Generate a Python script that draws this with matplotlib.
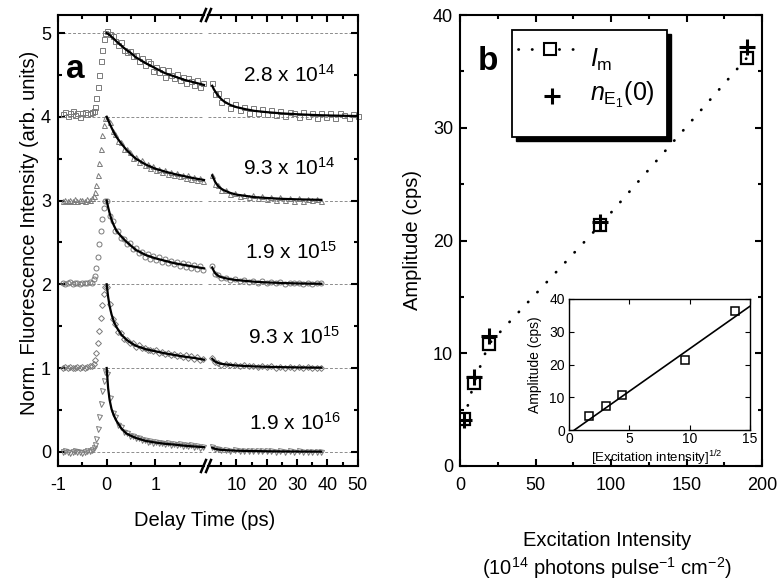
import matplotlib
matplotlib.use("Agg")
import matplotlib.pyplot as plt
from matplotlib.lines import Line2D
from matplotlib.patches import Rectangle

plt.rcParams['font.family'] = ['Liberation Sans', 'DejaVu Sans']
plt.rcParams['mathtext.fontset'] = 'custom'
plt.rcParams['mathtext.rm'] = 'Liberation Sans'
plt.rcParams['mathtext.it'] = 'Liberation Sans:italic'
plt.rcParams['mathtext.bf'] = 'Liberation Sans:bold'
plt.rcParams['mathtext.sf'] = 'Liberation Sans'
plt.rcParams['axes.unicode_minus'] = False

# ---------------- data: panel a ----------------
trace_labels = ["2.8 x 10$^{14}$", "9.3 x 10$^{14}$", "1.9 x 10$^{15}$",
                "9.3 x 10$^{15}$", "1.9 x 10$^{16}$"]
trace_offsets = [4, 3, 2, 1, 0]

t_left = [-0.90, -0.85, -0.80, -0.75, -0.70, -0.65, -0.60, -0.55, -0.50, -0.45, -0.40, -0.35, -0.30,
          -0.27, -0.24, -0.21, -0.18, -0.15, -0.12, -0.09, -0.06, -0.03,
          0.00, 0.06, 0.12, 0.18, 0.24, 0.30, 0.36, 0.42, 0.48, 0.54, 0.60, 0.66, 0.72, 0.78, 0.84,
          0.90, 0.96, 1.02, 1.08, 1.14, 1.20, 1.26, 1.32, 1.38, 1.44, 1.50, 1.56, 1.62, 1.68, 1.74,
          1.80, 1.86, 1.92, 1.98]

y_left_1 = [0.03, 0.06, 0.01, 0.04, 0.07, 0.02, 0.05, 0.00, 0.04, 0.06, 0.03, 0.05, 0.06,
            0.07, 0.12, 0.22, 0.35, 0.50, 0.66, 0.80, 0.93, 1.00,
            1.02, 0.99, 0.96, 0.91, 0.86, 0.89, 0.80, 0.77, 0.79, 0.72, 0.74, 0.66, 0.70, 0.62, 0.66,
            0.64, 0.55, 0.60, 0.53, 0.57, 0.48, 0.56, 0.50, 0.46, 0.51, 0.44, 0.47, 0.40, 0.46, 0.43,
            0.38, 0.44, 0.36, 0.40]
y_left_2 = [0.00, 0.01, -0.01, 0.01, 0.00, 0.02, 0.00, 0.01, 0.01, 0.00, 0.02, 0.01, 0.03,
            0.05, 0.10, 0.18, 0.30, 0.45, 0.62, 0.78, 0.90, 0.98,
            0.98, 0.94, 0.83, 0.80, 0.71, 0.70, 0.62, 0.61, 0.58, 0.51, 0.52, 0.46, 0.48, 0.42, 0.44,
            0.39, 0.41, 0.36, 0.38, 0.34, 0.36, 0.32, 0.34, 0.30, 0.33, 0.29, 0.31, 0.27, 0.30, 0.26,
            0.28, 0.24, 0.27, 0.23]
y_left_3 = [0.02, 0.00, 0.01, 0.03, 0.00, 0.01, 0.02, 0.00, 0.01, 0.02, 0.01, 0.03, 0.02,
            0.06, 0.10, 0.20, 0.32, 0.48, 0.63, 0.78, 0.91, 0.99,
            0.99, 0.82, 0.76, 0.64, 0.63, 0.55, 0.54, 0.48, 0.49, 0.42, 0.43, 0.37, 0.39, 0.33, 0.36,
            0.30, 0.34, 0.29, 0.32, 0.27, 0.30, 0.25, 0.28, 0.24, 0.27, 0.22, 0.25, 0.21, 0.24, 0.20,
            0.23, 0.18, 0.22, 0.17]
y_left_4 = [0.00, 0.01, 0.00, 0.01, 0.00, 0.00, 0.01, 0.00, 0.01, 0.00, 0.01, 0.02, 0.02,
            0.05, 0.10, 0.18, 0.30, 0.44, 0.60, 0.75, 0.88, 0.97,
            0.97, 0.76, 0.58, 0.53, 0.43, 0.42, 0.35, 0.34, 0.30, 0.30, 0.25, 0.27, 0.24, 0.24, 0.21,
            0.22, 0.20, 0.21, 0.18, 0.19, 0.17, 0.18, 0.15, 0.17, 0.14, 0.16, 0.13, 0.15, 0.12, 0.14,
            0.11, 0.13, 0.10, 0.11]
y_left_5 = [0.00, 0.01, 0.00, -0.01, 0.00, 0.01, 0.00, 0.00, -0.01, 0.00, 0.01, 0.01, 0.02,
            0.04, 0.08, 0.15, 0.27, 0.42, 0.57, 0.72, 0.85, 0.95,
            0.93, 0.64, 0.46, 0.41, 0.32, 0.29, 0.24, 0.22, 0.19, 0.19, 0.16, 0.16, 0.14, 0.14, 0.12,
            0.13, 0.11, 0.12, 0.10, 0.11, 0.09, 0.10, 0.085, 0.095, 0.08, 0.09, 0.07, 0.08, 0.065, 0.075,
            0.06, 0.07, 0.05, 0.06]

t_right = [2.0, 3.0, 4.0, 5.0, 6.5, 8.0, 9.5, 11, 12.5, 14, 15.5, 17, 18.5, 20, 21.5, 23, 24.5,
           26, 27.5, 29, 30.5, 32, 33.5, 35, 36.5, 38, 39.5, 41, 42.5, 44, 45.5, 47, 48.5, 50]

y_right_1 = [0.40, 0.27, 0.28, 0.18, 0.20, 0.11, 0.15, 0.08, 0.12, 0.05, 0.10, 0.04, 0.09, 0.03,
             0.08, 0.02, 0.07, 0.01, 0.06, 0.05, 0.00, 0.06, 0.01, 0.05, -0.01, 0.04, 0.00, 0.05,
             -0.01, 0.04, 0.02, -0.01, 0.03, 0.01]
y_right_2 = [0.31, 0.20, 0.18, 0.12, 0.13, 0.08, 0.09, 0.05, 0.07, 0.04, 0.06, 0.03, 0.05, 0.02,
             0.04, 0.01, 0.04, 0.01, 0.03, 0.00, 0.03, 0.00, 0.02, 0.01, 0.02, 0.00]
y_right_3 = [0.22, 0.12, 0.11, 0.07, 0.08, 0.05, 0.06, 0.04, 0.05, 0.03, 0.04, 0.02, 0.04, 0.01,
             0.03, 0.01, 0.03, 0.00, 0.02, 0.01, 0.02, 0.00, 0.02, 0.00, 0.01, 0.01]
y_right_4 = [0.12, 0.07, 0.065, 0.04, 0.05, 0.03, 0.04, 0.02, 0.03, 0.02, 0.025, 0.01, 0.02, 0.01,
             0.02, 0.005, 0.015, 0.00, 0.01, 0.005, 0.01, 0.00, 0.01, 0.00, 0.005, 0.00]
y_right_5 = [0.055, 0.035, 0.03, 0.02, 0.025, 0.015, 0.02, 0.01, 0.015, 0.01, 0.01, 0.005, 0.01,
             0.005, 0.008, 0.00, 0.006, 0.00, 0.005, 0.00, 0.004, 0.00, 0.003, 0.00, 0.002, 0.00]

# fitted curves
t_fit_left = [0.0, 0.03, 0.06, 0.1, 0.15, 0.2, 0.3, 0.4, 0.5, 0.6, 0.8, 1.0, 1.2, 1.4, 1.6, 1.8, 2.0]
fit_left_1 = [1.00, 0.99, 0.975, 0.955, 0.93, 0.90, 0.85, 0.80, 0.76, 0.71, 0.64, 0.58, 0.52, 0.48, 0.44, 0.41, 0.38]
fit_left_2 = [1.00, 0.96, 0.92, 0.87, 0.81, 0.76, 0.68, 0.61, 0.55, 0.50, 0.43, 0.38, 0.345, 0.315, 0.29, 0.265, 0.245]
fit_left_3 = [1.00, 0.92, 0.85, 0.77, 0.70, 0.64, 0.57, 0.51, 0.46, 0.41, 0.35, 0.31, 0.28, 0.25, 0.23, 0.21, 0.19]
fit_left_4 = [1.00, 0.85, 0.74, 0.64, 0.55, 0.49, 0.40, 0.34, 0.30, 0.265, 0.225, 0.20, 0.175, 0.155, 0.135, 0.12, 0.10]
fit_left_5 = [1.00, 0.76, 0.62, 0.51, 0.43, 0.37, 0.28, 0.22, 0.19, 0.165, 0.13, 0.11, 0.095, 0.085, 0.072, 0.063, 0.055]

t_fit_right = [2, 2.5, 3, 4, 5, 6, 8, 10, 13, 16, 20, 25, 30, 35, 38, 42, 46, 50]
fit_right_1 = [0.37, 0.33, 0.30, 0.25, 0.21, 0.18, 0.14, 0.115, 0.09, 0.07, 0.055, 0.04, 0.03, 0.022, 0.018, 0.014, 0.011, 0.009]
fit_right_2 = [0.30, 0.26, 0.22, 0.17, 0.14, 0.12, 0.09, 0.07, 0.055, 0.04, 0.03, 0.02, 0.014, 0.01, 0.008]
fit_right_3 = [0.20, 0.16, 0.13, 0.10, 0.085, 0.075, 0.06, 0.05, 0.04, 0.03, 0.022, 0.015, 0.01, 0.007, 0.006]
fit_right_4 = [0.11, 0.09, 0.075, 0.06, 0.05, 0.045, 0.037, 0.03, 0.024, 0.019, 0.014, 0.01, 0.007, 0.005, 0.004]
fit_right_5 = [0.05, 0.04, 0.034, 0.027, 0.023, 0.02, 0.016, 0.013, 0.01, 0.008, 0.006, 0.004, 0.003, 0.002, 0.002]

# ---------------- data: panel b ----------------
intensity = [2.8, 9.3, 19, 93, 190]
amp_Im = [4.2, 7.4, 10.8, 21.4, 36.2]
amp_nE = [4.1, 7.9, 11.5, 21.6, 37.2]
sqrt_intensity = [1.67, 3.05, 4.36, 9.64, 13.78]
inset_fit_x = [0.45, 15.0]
inset_fit_y = [0.0, 37.8]

# ---------------- figure ----------------
W, H = 780, 584
fig = plt.figure(figsize=(W / 100, H / 100), dpi=100)


def fbox(l, t, r, b):
    return [l / W, 1 - b / H, (r - l) / W, (b - t) / H]


def fx(x):
    return x / W


def fy(y):
    return 1 - y / H


SPINE_W = 1.5
TICK_FS = 13
DOTS = (0, (0.1, 4.8))

axL = fig.add_axes(fbox(58, 15, 204, 466))
axR = fig.add_axes(fbox(208, 15, 358, 466))

markers = ['s', '^', 'o', 'D', 'v']
msizes = [3.6, 3.6, 3.6, 3.0, 3.6]
ys_left = [y_left_1, y_left_2, y_left_3, y_left_4, y_left_5]
ys_right = [y_right_1, y_right_2, y_right_3, y_right_4, y_right_5]
fits_left = [fit_left_1, fit_left_2, fit_left_3, fit_left_4, fit_left_5]
fits_right = [fit_right_1, fit_right_2, fit_right_3, fit_right_4, fit_right_5]
gray = '#7a7a7a'

for ax in (axL, axR):
    for lev in range(6):
        ax.axhline(lev, color='#8c8c8c', lw=0.7, ls=(0, (3, 2)), zorder=1)

for i in range(5):
    off = trace_offsets[i]
    axL.plot(t_left, [v + off for v in ys_left[i]], ls='none', marker=markers[i], ms=msizes[i],
             mfc='none', mec=gray, mew=0.7, zorder=2, clip_on=False)
    nR = len(ys_right[i])
    axR.plot(t_right[:nR], [v + off for v in ys_right[i]], ls='none', marker=markers[i], ms=msizes[i],
             mfc='none', mec=gray, mew=0.7, zorder=2, clip_on=False)
    axL.plot(t_fit_left, [v + off for v in fits_left[i]], color='black', lw=1.6, zorder=3, clip_on=False)
    nF = len(fits_right[i])
    axR.plot(t_fit_right[:nF], [v + off for v in fits_right[i]], color='black', lw=1.6, zorder=3)

axL.set_xlim(-1, 2.0)
axR.set_xlim(0.6, 50.1)
for ax in (axL, axR):
    ax.set_ylim(-0.17, 5.215)
    for s in ax.spines.values():
        s.set_linewidth(SPINE_W)

axL.spines['right'].set_visible(False)
axR.spines['left'].set_visible(False)
axL.set_xticks([-1, 0, 1])
axL.set_xticks([-0.5, 0.5, 1.5], minor=True)
axR.set_xticks([10, 20, 30, 40, 50])
axR.set_xticks([5, 15, 25, 35, 45], minor=True)
axL.set_yticks([0, 1, 2, 3, 4, 5])
axL.set_yticks([0.5, 1.5, 2.5, 3.5, 4.5], minor=True)
axR.set_yticks([0, 1, 2, 3, 4, 5])
axR.set_yticks([0.5, 1.5, 2.5, 3.5, 4.5], minor=True)

axL.tick_params(which='both', direction='in', top=True, right=False, left=True, width=SPINE_W,
                labelsize=TICK_FS)
axL.tick_params(axis='x', pad=8)
axL.tick_params(axis='y', pad=5)
axR.tick_params(which='both', direction='in', top=True, right=True, left=False, labelleft=False,
                width=SPINE_W, labelsize=TICK_FS)
axR.tick_params(axis='x', pad=8)
for ax in (axL, axR):
    ax.tick_params(which='major', length=5)
    ax.tick_params(which='minor', length=3)

# break marks
for yb in (15, 466):
    for xb in (203.5, 208.5):
        fig.add_artist(Line2D([fx(xb - 2.5), fx(xb + 2.5)], [fy(yb + 6), fy(yb - 6)],
                              transform=fig.transFigure, color='black', lw=1.8))

# trace annotations
label_pos = [(243, 75), (243, 168), (245, 252), (248, 337), (249, 423)]
for lab, (px, py) in zip(trace_labels, label_pos):
    fig.text(fx(px), fy(py), lab, fontsize=15, ha='left', va='center')

fig.text(fx(66), fy(70), 'a', fontsize=24, fontweight='bold', ha='left', va='center')
fig.text(fx(30), fy(233), 'Norm. Fluorescence Intensity (arb. units)', fontsize=14.5,
         rotation=90, ha='center', va='center')
fig.text(fx(205), fy(521), 'Delay Time (ps)', fontsize=14.5, ha='center', va='center')

# ---------------- panel b ----------------
axB = fig.add_axes(fbox(460, 15, 762, 466))
axB.plot(intensity, amp_Im, color='black', lw=2.0, ls=DOTS, dash_capstyle='round',
         marker='s', ms=9, mfc='none', mec='black', mew=1.6, zorder=3)
axB.plot(intensity, amp_nE, ls='none', marker='+', ms=12, mec='black', mew=2.2, zorder=4)
axB.set_xlim(0, 200)
axB.set_ylim(0, 40)
axB.set_xticks([0, 50, 100, 150, 200])
axB.set_xticks([25, 75, 125, 175], minor=True)
axB.set_yticks([0, 10, 20, 30, 40])
axB.set_yticks([5, 15, 25, 35], minor=True)
axB.tick_params(which='both', direction='in', top=True, right=True, width=SPINE_W, labelsize=TICK_FS)
axB.tick_params(which='major', length=5)
axB.tick_params(which='minor', length=3)
axB.tick_params(axis='x', pad=8)
axB.tick_params(axis='y', pad=5)
for s in axB.spines.values():
    s.set_linewidth(SPINE_W)

fig.text(fx(478), fy(62), 'b', fontsize=24, fontweight='bold', ha='left', va='center')
fig.text(fx(413), fy(240), 'Amplitude (cps)', fontsize=14.5, rotation=90, ha='center', va='center')
fig.text(fx(607), fy(540), 'Excitation Intensity', fontsize=14.5, ha='center', va='center')
fig.text(fx(607), fy(568), r'$($10$^{14}$ photons pulse$^{-1}$ cm$^{-2}$$)$', fontsize=14.5,
         ha='center', va='center')

# manual legend box with solid shadow
fig.add_artist(Rectangle((fx(516), fy(141)), (667 - 512) / W, (137 - 30) / H,
                         transform=fig.transFigure, facecolor='black', edgecolor='black', lw=1))
fig.add_artist(Rectangle((fx(512), fy(137)), (667 - 512) / W, (137 - 30) / H,
                         transform=fig.transFigure, facecolor='white', edgecolor='black', lw=1.3))
fig.add_artist(Line2D([fx(518), fx(580)], [fy(49), fy(49)], transform=fig.transFigure,
                      color='black', lw=2.0, ls=DOTS, dash_capstyle='round'))
fig.add_artist(Line2D([fx(550)], [fy(49)], transform=fig.transFigure, ls='none', marker='s',
                      ms=8, mfc='white', mec='black', mew=1.5))
fig.add_artist(Line2D([fx(552)], [fy(96)], transform=fig.transFigure, ls='none', marker='+',
                      ms=11, mec='black', mew=2.2))
fig.text(fx(590), fy(60), r'$I_{\mathrm{m}}$', fontsize=18, ha='left', va='center')
fig.text(fx(590), fy(95), r'$n_{\mathrm{E}_1}(0)$', fontsize=18, ha='left', va='center')

# ---------------- inset ----------------
axI = fig.add_axes(fbox(569, 299, 750, 430))
axI.plot(inset_fit_x, inset_fit_y, color='black', lw=1.2)
axI.plot(sqrt_intensity, amp_Im, ls='none', marker='s', ms=6, mfc='none', mec='black', mew=1.1)
axI.set_xlim(0, 15)
axI.set_ylim(0, 40)
axI.set_xticks([0, 5, 10, 15])
axI.set_yticks([0, 10, 20, 30, 40])
axI.tick_params(direction='in', top=True, right=True, labelsize=10, length=3.5)
axI.tick_params(axis='x', pad=1.5)
axI.tick_params(axis='y', pad=3)
for s in axI.spines.values():
    s.set_linewidth(1.0)
fig.text(fx(535), fy(365), 'Amplitude (cps)', fontsize=10, rotation=90, ha='center', va='center')
fig.text(fx(657), fy(458), r'[Excitation intensity]$^{1/2}$', fontsize=9.5, ha='center', va='center')

fig.savefig('out.png', dpi=100)
